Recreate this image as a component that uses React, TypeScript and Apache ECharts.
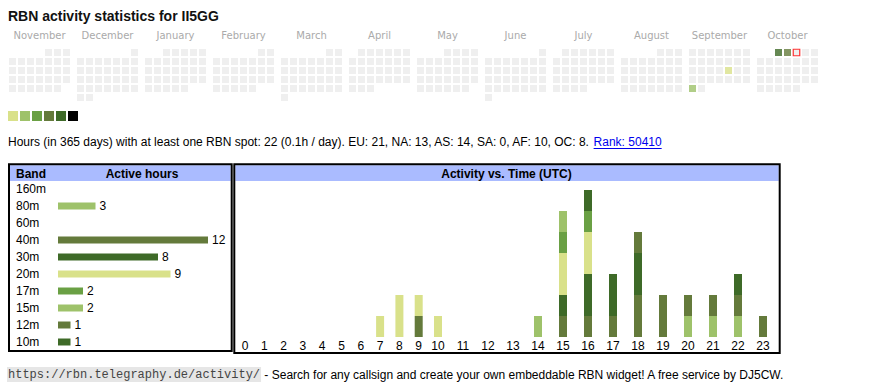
import React, { useEffect, useRef } from 'react';
import * as echarts from 'echarts';

const TITLE = 'RBN activity statistics for II5GG';
const MONTHS = ['2024-11', '2024-12', '2025-01', '2025-02', '2025-03', '2025-04', '2025-05', '2025-06', '2025-07', '2025-08', '2025-09', '2025-10'];
const MONTH_NAMES = ['November', 'December', 'January', 'February', 'March', 'April', 'May', 'June', 'July', 'August', 'September', 'October'];
const ACTIVE_DAYS: [string, string][] = [
  ['2025-09-19', '20m'],
  ['2025-09-29', '80m'],
  ['2025-10-01', '30m'],
  ['2025-10-02', '40m'],
];
const TODAY = '2025-10-03';
const LEGEND_COLORS = ['#d9e18a', '#9ec26a', '#6aa044', '#647a3b', '#3e6a28', '#000000'];

const SUMMARY = 'Hours (in 365 days) with at least one RBN spot: 22 (0.1h / day). EU: 21, NA: 13, AS: 14, SA: 0, AF: 10, OC: 8. ';
const RANK = 'Rank: 50410';
const FOOTER_URL = 'https://rbn.telegraphy.de/activity/';
const FOOTER_TEXT = ' - Search for any callsign and create your own embeddable RBN widget! A free service by DJ5CW.';

const BANDS = ['160m', '80m', '60m', '40m', '30m', '20m', '17m', '15m', '12m', '10m'];
const BAND_HOURS = [0, 3, 0, 12, 8, 9, 2, 2, 1, 1];
const HOURS = ['0', '1', '2', '3', '4', '5', '6', '7', '8', '9', '10', '11', '12', '13', '14', '15', '16', '17', '18', '19', '20', '21', '22', '23'];

const H_160m = [0, 0, 0, 0, 0, 0, 0, 0, 0, 0, 0, 0, 0, 0, 0, 0, 0, 0, 0, 0, 0, 0, 0, 0];
const H_80m = [0, 0, 0, 0, 0, 0, 0, 0, 0, 0, 0, 0, 0, 0, 0, 0, 0, 0, 0, 0, 1, 1, 1, 0];
const H_60m = [0, 0, 0, 0, 0, 0, 0, 0, 0, 0, 0, 0, 0, 0, 0, 0, 0, 0, 0, 0, 0, 0, 0, 0];
const H_40m = [0, 0, 0, 0, 0, 0, 0, 0, 0, 1, 0, 0, 0, 0, 0, 1, 1, 1, 2, 2, 1, 1, 1, 1];
const H_30m = [0, 0, 0, 0, 0, 0, 0, 0, 0, 0, 0, 0, 0, 0, 0, 1, 2, 2, 2, 0, 0, 0, 1, 0];
const H_20m = [0, 0, 0, 0, 0, 0, 0, 1, 2, 1, 1, 0, 0, 0, 0, 2, 2, 0, 0, 0, 0, 0, 0, 0];
const H_17m = [0, 0, 0, 0, 0, 0, 0, 0, 0, 0, 0, 0, 0, 0, 0, 1, 1, 0, 0, 0, 0, 0, 0, 0];
const H_15m = [0, 0, 0, 0, 0, 0, 0, 0, 0, 0, 0, 0, 0, 0, 1, 1, 0, 0, 0, 0, 0, 0, 0, 0];
const H_12m = [0, 0, 0, 0, 0, 0, 0, 0, 0, 0, 0, 0, 0, 0, 0, 0, 0, 0, 1, 0, 0, 0, 0, 0];
const H_10m = [0, 0, 0, 0, 0, 0, 0, 0, 0, 0, 0, 0, 0, 0, 0, 0, 1, 0, 0, 0, 0, 0, 0, 0];
const HOURLY = [H_160m, H_80m, H_60m, H_40m, H_30m, H_20m, H_17m, H_15m, H_12m, H_10m];

const BAND_COLORS: Record<string, string> = {
  '160m': '#000000',
  '80m': '#9ec26a',
  '60m': '#d9e18a',
  '40m': '#647a3b',
  '30m': '#3e6a28',
  '20m': '#d9e18a',
  '17m': '#6aa044',
  '15m': '#9ec26a',
  '12m': '#647a3b',
  '10m': '#3e6a28',
};

const SANS = '"Liberation Sans", Arial, sans-serif';
const EMPTY = '#ebebeb';
const HEADER_BG = '#aabbff';

function daysOfMonth(ym: string): string[] {
  const [y, m] = ym.split('-').map(Number);
  const n = new Date(y, m, 0).getDate();
  const out: string[] = [];
  for (let d = 1; d <= n; d++) out.push(`${ym}-${String(d).padStart(2, '0')}`);
  return out;
}

function measure(text: string, font: string): number {
  const c = document.createElement('canvas').getContext('2d');
  if (!c) return text.length * 6;
  c.font = font;
  return c.measureText(text).width;
}

export default function App() {
  const ref = useRef<HTMLDivElement>(null);

  useEffect(() => {
    if (!ref.current) return;
    const chart = echarts.init(ref.current, undefined, { renderer: 'svg' });
    const activeMap: Record<string, string> = {};
    ACTIVE_DAYS.forEach(([d, b]) => (activeMap[d] = b));

    const calendars = MONTHS.map((m, i) => ({
      orient: 'vertical',
      range: m,
      cellSize: [9, 9],
      left: 8 + i * 68,
      top: 48,
      dayLabel: { show: false, firstDay: 1 },
      monthLabel: { show: false },
      yearLabel: { show: false },
      splitLine: { show: false },
      itemStyle: { color: 'transparent', borderWidth: 0 },
    }));

    const calSeries = MONTHS.map((m, i) => ({
      type: 'scatter',
      coordinateSystem: 'calendar',
      calendarIndex: i,
      symbol: 'rect',
      symbolSize: 7,
      silent: true,
      data: daysOfMonth(m).map((d) => {
        if (d === TODAY) {
          return { value: [d, 0], symbolSize: 6.5, itemStyle: { color: EMPTY, borderColor: '#ff0000', borderWidth: 1.2 } };
        }
        const b = activeMap[d];
        return { value: [d, b ? 1 : 0], itemStyle: { color: b ? BAND_COLORS[b] : EMPTY } };
      }),
    }));

    // hourly chart split in two grids (narrow columns 0-9, wide columns 10-23)
    const SPLIT = 10;
    const hourSeries: any[] = [];
    [0, 1].forEach((g) => {
      BANDS.forEach((b, bi) => {
        const arr = HOURLY[bi];
        hourSeries.push({
          type: 'bar',
          name: b,
          xAxisIndex: g + 1,
          yAxisIndex: g + 1,
          stack: 'h' + g,
          barWidth: 8,
          silent: true,
          itemStyle: { color: BAND_COLORS[b] },
          data: g === 0 ? arr.slice(0, SPLIT) : arr.slice(SPLIT),
        });
      });
    });

    const summaryFont = `12px ${SANS}`;
    const sumW = measure(SUMMARY, summaryFont);
    const rankW = measure(RANK, summaryFont);
    const monoFont = '12px "Liberation Mono", monospace';
    const urlW = measure(FOOTER_URL, monoFont);

    const txt = (text: string, x: number, y: number, extra: any = {}) => ({
      type: 'text',
      x,
      y,
      silent: true,
      style: {
        text,
        fill: '#000',
        fontSize: 12,
        fontFamily: SANS,
        align: 'left',
        textAlign: 'left',
        verticalAlign: 'middle',
        textVerticalAlign: 'middle',
        ...extra,
      },
    });

    const graphics: any[] = [
      txt(TITLE, 8, 16, { fontSize: 14, fontWeight: 'bold', fill: '#111' }),
      ...MONTH_NAMES.map((n, i) =>
        txt(n, 8 + i * 68 + 31.5, 35, { align: 'center', textAlign: 'center', fill: '#aaaaaa', fontSize: 10, fontFamily: '"DejaVu Sans", Verdana, sans-serif' })
      ),
      ...LEGEND_COLORS.map((c, i) => ({
        type: 'rect',
        silent: true,
        shape: { x: 8 + i * 12, y: 111, width: 10, height: 10 },
        style: { fill: c },
      })),
      txt(SUMMARY, 8, 142),
      txt(RANK, 8 + sumW, 142, { fill: '#0000ee' }),
      {
        type: 'line',
        silent: true,
        shape: { x1: 8 + sumW, y1: 148.5, x2: 8 + sumW + rankW, y2: 148.5 },
        style: { stroke: '#0000ee', lineWidth: 1 },
      },
      // left table
      { type: 'rect', silent: true, shape: { x: 10, y: 165.3, width: 220.7, height: 15.7 }, style: { fill: HEADER_BG } },
      { type: 'rect', silent: true, shape: { x: 9, y: 164.3, width: 222.7, height: 186.7 }, style: { fill: 'none', stroke: '#000', lineWidth: 2 } },
      txt('Band', 16, 173.5, { fontWeight: 'bold' }),
      txt('Active hours', 142, 173.5, { fontWeight: 'bold', align: 'center', textAlign: 'center' }),
      // right table
      { type: 'rect', silent: true, shape: { x: 235.3, y: 165.3, width: 543.4, height: 15.7 }, style: { fill: HEADER_BG } },
      { type: 'rect', silent: true, shape: { x: 234.3, y: 164.3, width: 545.4, height: 188.7 }, style: { fill: 'none', stroke: '#000', lineWidth: 2 } },
      txt('Activity vs. Time (UTC)', 506.5, 173.5, { fontWeight: 'bold', align: 'center', textAlign: 'center' }),
      // footer
      {
        type: 'rect',
        silent: true,
        shape: { x: 7, y: 367, width: urlW + 2, height: 15 },
        style: { fill: '#e6e6e6' },
      },
      txt(FOOTER_URL, 8, 374.5, { fontSize: 12, fontFamily: '"Liberation Mono", monospace', fill: '#444' }),
      txt(FOOTER_TEXT, 9 + urlW, 374.5),
    ];

    const option: any = {
      animation: false,
      textStyle: { fontFamily: SANS },
      calendar: calendars,
      grid: [
        { left: 58, top: 180.5, width: 150, height: 170 },
        { left: 235.35, top: 190, width: 193, height: 147 },
        { left: 425.5, top: 190, width: 350, height: 147 },
      ],
      xAxis: [
        { type: 'value', gridIndex: 0, min: 0, max: 12, show: false },
        {
          type: 'category', gridIndex: 1, data: HOURS.slice(0, SPLIT),
          axisLine: { show: false }, axisTick: { show: false },
          axisLabel: { color: '#000', fontSize: 12, margin: 3, interval: 0 },
        },
        {
          type: 'category', gridIndex: 2, data: HOURS.slice(SPLIT),
          axisLine: { show: false }, axisTick: { show: false },
          axisLabel: { color: '#000', fontSize: 12, margin: 3, interval: 0 },
        },
      ],
      yAxis: [
        {
          type: 'category', gridIndex: 0, data: BANDS, inverse: true,
          axisLine: { show: false }, axisTick: { show: false },
          axisLabel: { color: '#000', fontSize: 12, align: 'left', margin: 42, interval: 0 },
        },
        { type: 'value', gridIndex: 1, min: 0, max: 7, show: false },
        { type: 'value', gridIndex: 2, min: 0, max: 7, show: false },
      ],
      graphic: graphics,
      series: [
        ...calSeries,
        {
          type: 'bar',
          xAxisIndex: 0,
          yAxisIndex: 0,
          barWidth: 7,
          silent: true,
          data: BANDS.map((b, i) => ({ value: BAND_HOURS[i], itemStyle: { color: BAND_COLORS[b] } })),
          label: {
            show: true,
            position: 'right',
            distance: 4,
            color: '#000',
            fontSize: 12,
            formatter: (p: any) => (p.value ? String(p.value) : ''),
          },
        },
        ...hourSeries,
      ],
    };
    chart.setOption(option);
    return () => chart.dispose();
  }, []);

  return (
    <div
      ref={ref}
      style={{ position: 'fixed', left: 0, top: 0, width: 870, height: 390, background: '#fff' }}
    />
  );
}
